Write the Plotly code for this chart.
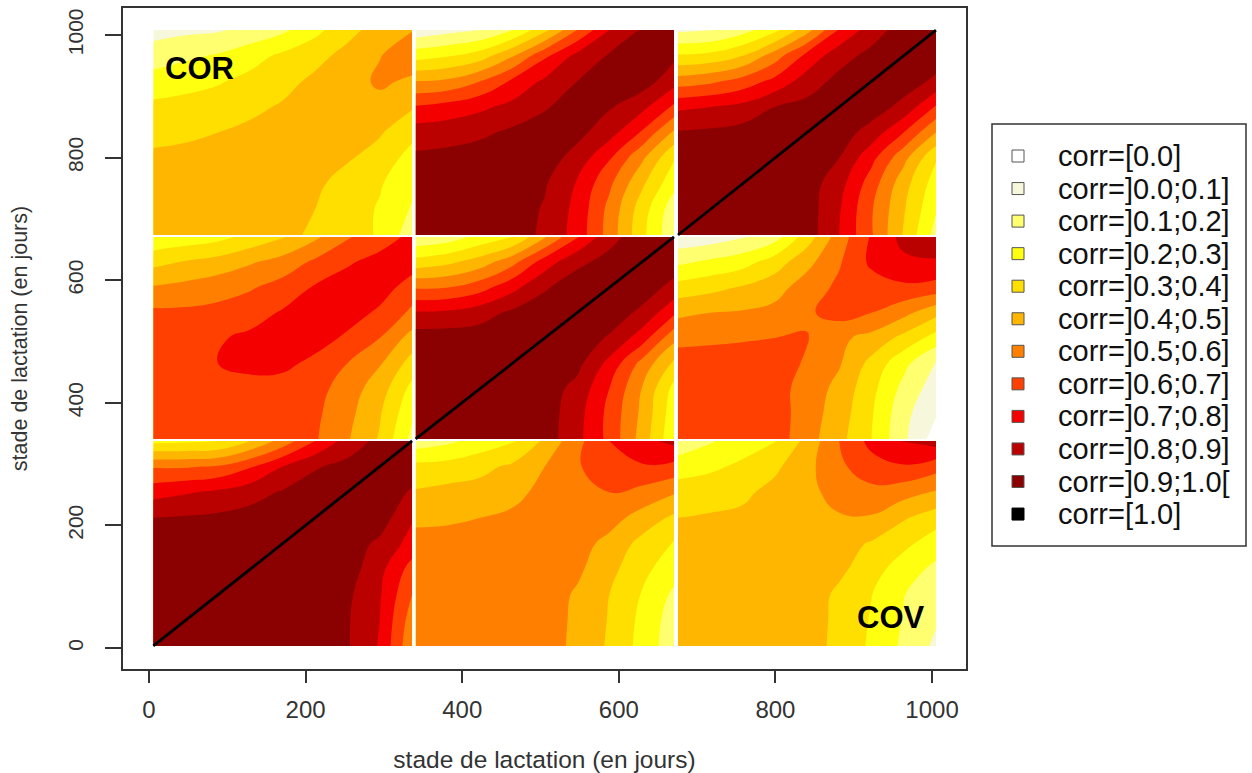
import numpy as np
import plotly.graph_objects as go

# Panel edges on the data axes
col_edges = [(5.5, 336.0), (340.6, 670.5), (675.6, 1005.0)]
row_edges = [(3.3, 337.7), (341.0, 670.5), (673.7, 1008.0)]

# Correlation levels; each panel: rows top -> bottom, columns left -> right
z_top_left = [
 [.07,.08,.09,.13,.18,.27,.37,.44,.495],
 [.14,.18,.21,.26,.32,.37,.43,.495,.57],
 [.25,.27,.29,.33,.37,.42,.45,.52,.48],
 [.32,.33,.35,.38,.41,.44,.45,.46,.41],
 [.37,.38,.40,.42,.44,.45,.44,.41,.33],
 [.42,.43,.44,.45,.45,.44,.41,.36,.26],
 [.45,.45,.45,.45,.44,.42,.36,.31,.22],
 [.45,.45,.45,.45,.44,.40,.35,.29,.19],
 [.45,.45,.45,.45,.43,.38,.34,.29,.14],
]
z_top_mid = [
 [.03,.07,.10,.20,.37,.60,.80,.91,.95],
 [.26,.29,.35,.49,.68,.83,.91,.95,.92],
 [.50,.52,.60,.72,.82,.90,.95,.95,.84],
 [.71,.74,.78,.83,.89,.95,.91,.83,.68],
 [.85,.86,.88,.92,.95,.93,.84,.69,.48],
 [.92,.93,.95,.95,.95,.86,.71,.52,.31],
 [.95,.95,.95,.95,.91,.79,.62,.42,.23],
 [.95,.95,.95,.95,.89,.77,.57,.35,.14],
 [.95,.95,.95,.95,.88,.76,.56,.33,.12],
]
z_top_right = [
 [.08,.09,.16,.27,.46,.71,.85,.95,.95],
 [.31,.33,.40,.55,.73,.86,.93,.95,.95],
 [.55,.58,.64,.73,.85,.93,.95,.95,.88],
 [.78,.80,.83,.90,.93,.95,.95,.87,.69],
 [.91,.92,.94,.95,.95,.95,.86,.70,.50],
 [.95,.95,.95,.95,.95,.90,.73,.53,.31],
 [.95,.95,.95,.95,.95,.84,.65,.44,.25],
 [.95,.95,.95,.95,.95,.81,.61,.41,.21],
 [.95,.95,.95,.95,.95,.80,.61,.39,.16],
]
z_mid_left = [
 [.22,.24,.27,.33,.39,.48,.59,.66,.72],
 [.37,.41,.44,.49,.54,.62,.69,.73,.75],
 [.51,.53,.56,.59,.64,.71,.74,.75,.65],
 [.62,.62,.63,.66,.71,.74,.75,.68,.58],
 [.65,.65,.69,.72,.75,.75,.68,.60,.46],
 [.65,.65,.70,.74,.73,.67,.60,.51,.36],
 [.65,.65,.65,.65,.65,.64,.55,.45,.27],
 [.65,.65,.65,.65,.65,.62,.53,.41,.22],
 [.65,.65,.65,.65,.65,.61,.51,.39,.17],
]
z_mid_mid = [
 [.12,.15,.23,.30,.49,.69,.87,.95,.95],
 [.34,.38,.45,.57,.75,.88,.93,.95,.95],
 [.59,.60,.66,.77,.89,.95,.95,.95,.87],
 [.81,.82,.86,.92,.95,.95,.95,.88,.72],
 [.95,.95,.95,.95,.95,.95,.89,.75,.53],
 [.95,.95,.95,.95,.95,.93,.77,.57,.38],
 [.95,.95,.95,.95,.95,.87,.70,.50,.27],
 [.95,.95,.95,.95,.95,.84,.67,.48,.24],
 [.95,.95,.95,.95,.95,.83,.67,.46,.22],
]
z_mid_right = [
 [.03,.05,.09,.16,.35,.55,.71,.83,.86],
 [.18,.22,.26,.35,.47,.59,.72,.78,.79],
 [.34,.37,.41,.46,.55,.62,.65,.68,.66],
 [.48,.50,.51,.53,.585,.64,.60,.53,.43],
 [.57,.58,.59,.60,.605,.52,.47,.37,.26],
 [.65,.65,.65,.64,.59,.51,.37,.23,.09],
 [.65,.65,.65,.64,.56,.47,.33,.17,.05],
 [.65,.65,.65,.65,.55,.45,.31,.13,.01],
 [.65,.65,.65,.65,.54,.43,.30,.12,-.05],
]
z_bot_left = [
 [.27,.28,.29,.40,.54,.70,.84,.93,.95],
 [.59,.59,.61,.69,.80,.89,.93,.95,.95],
 [.76,.79,.82,.86,.91,.95,.95,.95,.89],
 [.90,.91,.92,.94,.95,.95,.95,.95,.81],
 [.95,.95,.95,.95,.95,.95,.95,.88,.76],
 [.95,.95,.95,.95,.95,.95,.95,.83,.66],
 [.95,.95,.95,.95,.95,.95,.92,.81,.60],
 [.95,.95,.95,.95,.95,.95,.91,.80,.55],
 [.95,.95,.95,.95,.95,.95,.91,.79,.52],
]
z_bot_mid = [
 [.14,.18,.24,.28,.42,.57,.70,.77,.83],
 [.33,.34,.37,.42,.50,.59,.66,.69,.67],
 [.41,.43,.44,.47,.53,.56,.60,.57,.51],
 [.47,.48,.50,.52,.55,.55,.54,.46,.38],
 [.55,.55,.55,.55,.55,.54,.47,.37,.29],
 [.55,.55,.55,.55,.55,.52,.43,.33,.24],
 [.55,.55,.55,.55,.55,.487,.40,.295,.18],
 [.55,.55,.55,.55,.55,.479,.393,.276,.15],
 [.55,.55,.55,.55,.55,.473,.386,.267,.14],
]
z_bot_right = [
 [.12,.19,.25,.29,.43,.60,.73,.81,.85],
 [.26,.28,.32,.38,.47,.58,.66,.69,.64],
 [.34,.36,.38,.43,.47,.54,.57,.54,.49],
 [.40,.41,.42,.44,.45,.49,.49,.41,.35],
 [.45,.45,.45,.45,.45,.44,.39,.33,.24],
 [.45,.45,.45,.45,.45,.42,.35,.24,.18],
 [.45,.45,.45,.45,.45,.381,.302,.203,.14],
 [.45,.45,.45,.45,.45,.374,.292,.192,.11],
 [.45,.45,.45,.45,.45,.368,.284,.18,.08],
]
panels = [
 [z_bot_left, z_bot_mid, z_bot_right],
 [z_mid_left, z_mid_mid, z_mid_right],
 [z_top_left, z_top_mid, z_top_right],
]

legend_labels = ["corr=[0.0]", "corr=]0.0;0.1]", "corr=]0.1;0.2]", "corr=]0.2;0.3]",
                 "corr=]0.3;0.4]", "corr=]0.4;0.5]", "corr=]0.5;0.6]", "corr=]0.6;0.7]",
                 "corr=]0.7;0.8]", "corr=]0.8;0.9]", "corr=]0.9;1.0[", "corr=[1.0]"]
band_colors = ["#FFFFFF", "#F7F7DC", "#FFFF70", "#FFFF10", "#FFDF00", "#FFB600",
               "#FF8000", "#FF4000", "#F50000", "#BB0000", "#8B0000", "#000000"]
tick_values = [0, 200, 400, 600, 800, 1000]
x_title = "stade de lactation (en jours)"
y_title = "stade de lactation (en jours)"

# stepped colour scale across contour bands from -0.1 to 1.0
n = 11
cs = []
for i in range(n):
    cs += [[i / n, band_colors[i]], [(i + 1) / n, band_colors[i]]]

fig = go.Figure()
for r, row in enumerate(panels):
    for c, z in enumerate(row):
        fig.add_trace(go.Contour(
            x=np.linspace(*col_edges[c], 9),
            y=np.linspace(*row_edges[r], 9),
            z=z[::-1],
            zmin=-0.1, zmax=1.0, colorscale=cs, showscale=False,
            autocontour=False,
            contours=dict(start=-0.1, end=1.0, size=0.1, coloring="fill", showlines=False),
            line=dict(width=0, smoothing=1.3),
            hoverinfo="skip", showlegend=False,
        ))

# the diagonal (corr = 1)
for i in range(3):
    fig.add_trace(go.Scatter(
        x=list(col_edges[i]), y=list(row_edges[i]), mode="lines",
        line=dict(color="#000000", width=2.8), showlegend=False, hoverinfo="skip"))

# plot area in page pixels
PL, PR, PT, PB = 123, 966, 8, 669
def px(x):
    return (x - PL) / (PR - PL)
def py(y):
    return (PB - y) / (PB - PT)

shapes = [dict(type="rect", xref="paper", yref="paper", x0=px(992), x1=px(1246), y0=py(124), y1=py(546),
               line=dict(color="#333333", width=1.5), fillcolor="white")]
annotations = [
    dict(x=64, y=945, text="<b>COR</b>", showarrow=False, font=dict(family="Liberation Sans", size=31, color="#000")),
    dict(x=948, y=50, text="<b>COV</b>", showarrow=False, font=dict(family="Liberation Sans", size=31, color="#000")),
]
for i, (label, colr) in enumerate(zip(legend_labels, band_colors)):
    yc = 156 + 32.55 * i
    shapes.append(dict(type="rect", xref="paper", yref="paper", x0=px(1012), x1=px(1024),
                       y0=py(yc - 6), y1=py(yc + 6), fillcolor=colr,
                       line=dict(color="#555555" if colr != "#000000" else "#000000", width=1)))
    annotations.append(dict(xref="paper", yref="paper", x=px(1056), y=py(yc), text=label, showarrow=False,
                            xanchor="left", yanchor="middle",
                            font=dict(family="Liberation Sans", size=29, color="#111111")))

axis_common = dict(showgrid=False, zeroline=False, showline=True, mirror=True,
                   linecolor="#333333", linewidth=1.5, ticks="outside",
                   tickcolor="#333333", tickwidth=1.5, tickvals=tick_values)
fig.update_xaxes(range=[-33.2, 1043.4], ticklen=12, ticklabelstandoff=6,
                 tickfont=dict(family="Liberation Sans", size=24, color="#333"),
                 title=dict(text=x_title, font=dict(family="Liberation Sans", size=24.5, color="#333"), standoff=32),
                 **axis_common)
fig.update_yaxes(range=[-34.3, 1044.0], ticklen=16, tickangle=-90, ticklabelstandoff=14,
                 tickfont=dict(family="Liberation Sans", size=21, color="#333"),
                 title=dict(text=y_title, font=dict(family="Liberation Sans", size=21.5, color="#333"), standoff=30),
                 **axis_common)
fig.update_layout(
    width=1252, height=773, autosize=False,
    margin=dict(l=PL, r=1252 - PR, t=PT, b=773 - PB, autoexpand=False),
    paper_bgcolor="white", plot_bgcolor="white",
    font=dict(family="Liberation Sans"),
    showlegend=False, shapes=shapes, annotations=annotations,
)
fig.write_html("out.html", config=dict(displayModeBar=False),
               post_script="document.body.style.margin='0';document.body.style.overflow='hidden';")
